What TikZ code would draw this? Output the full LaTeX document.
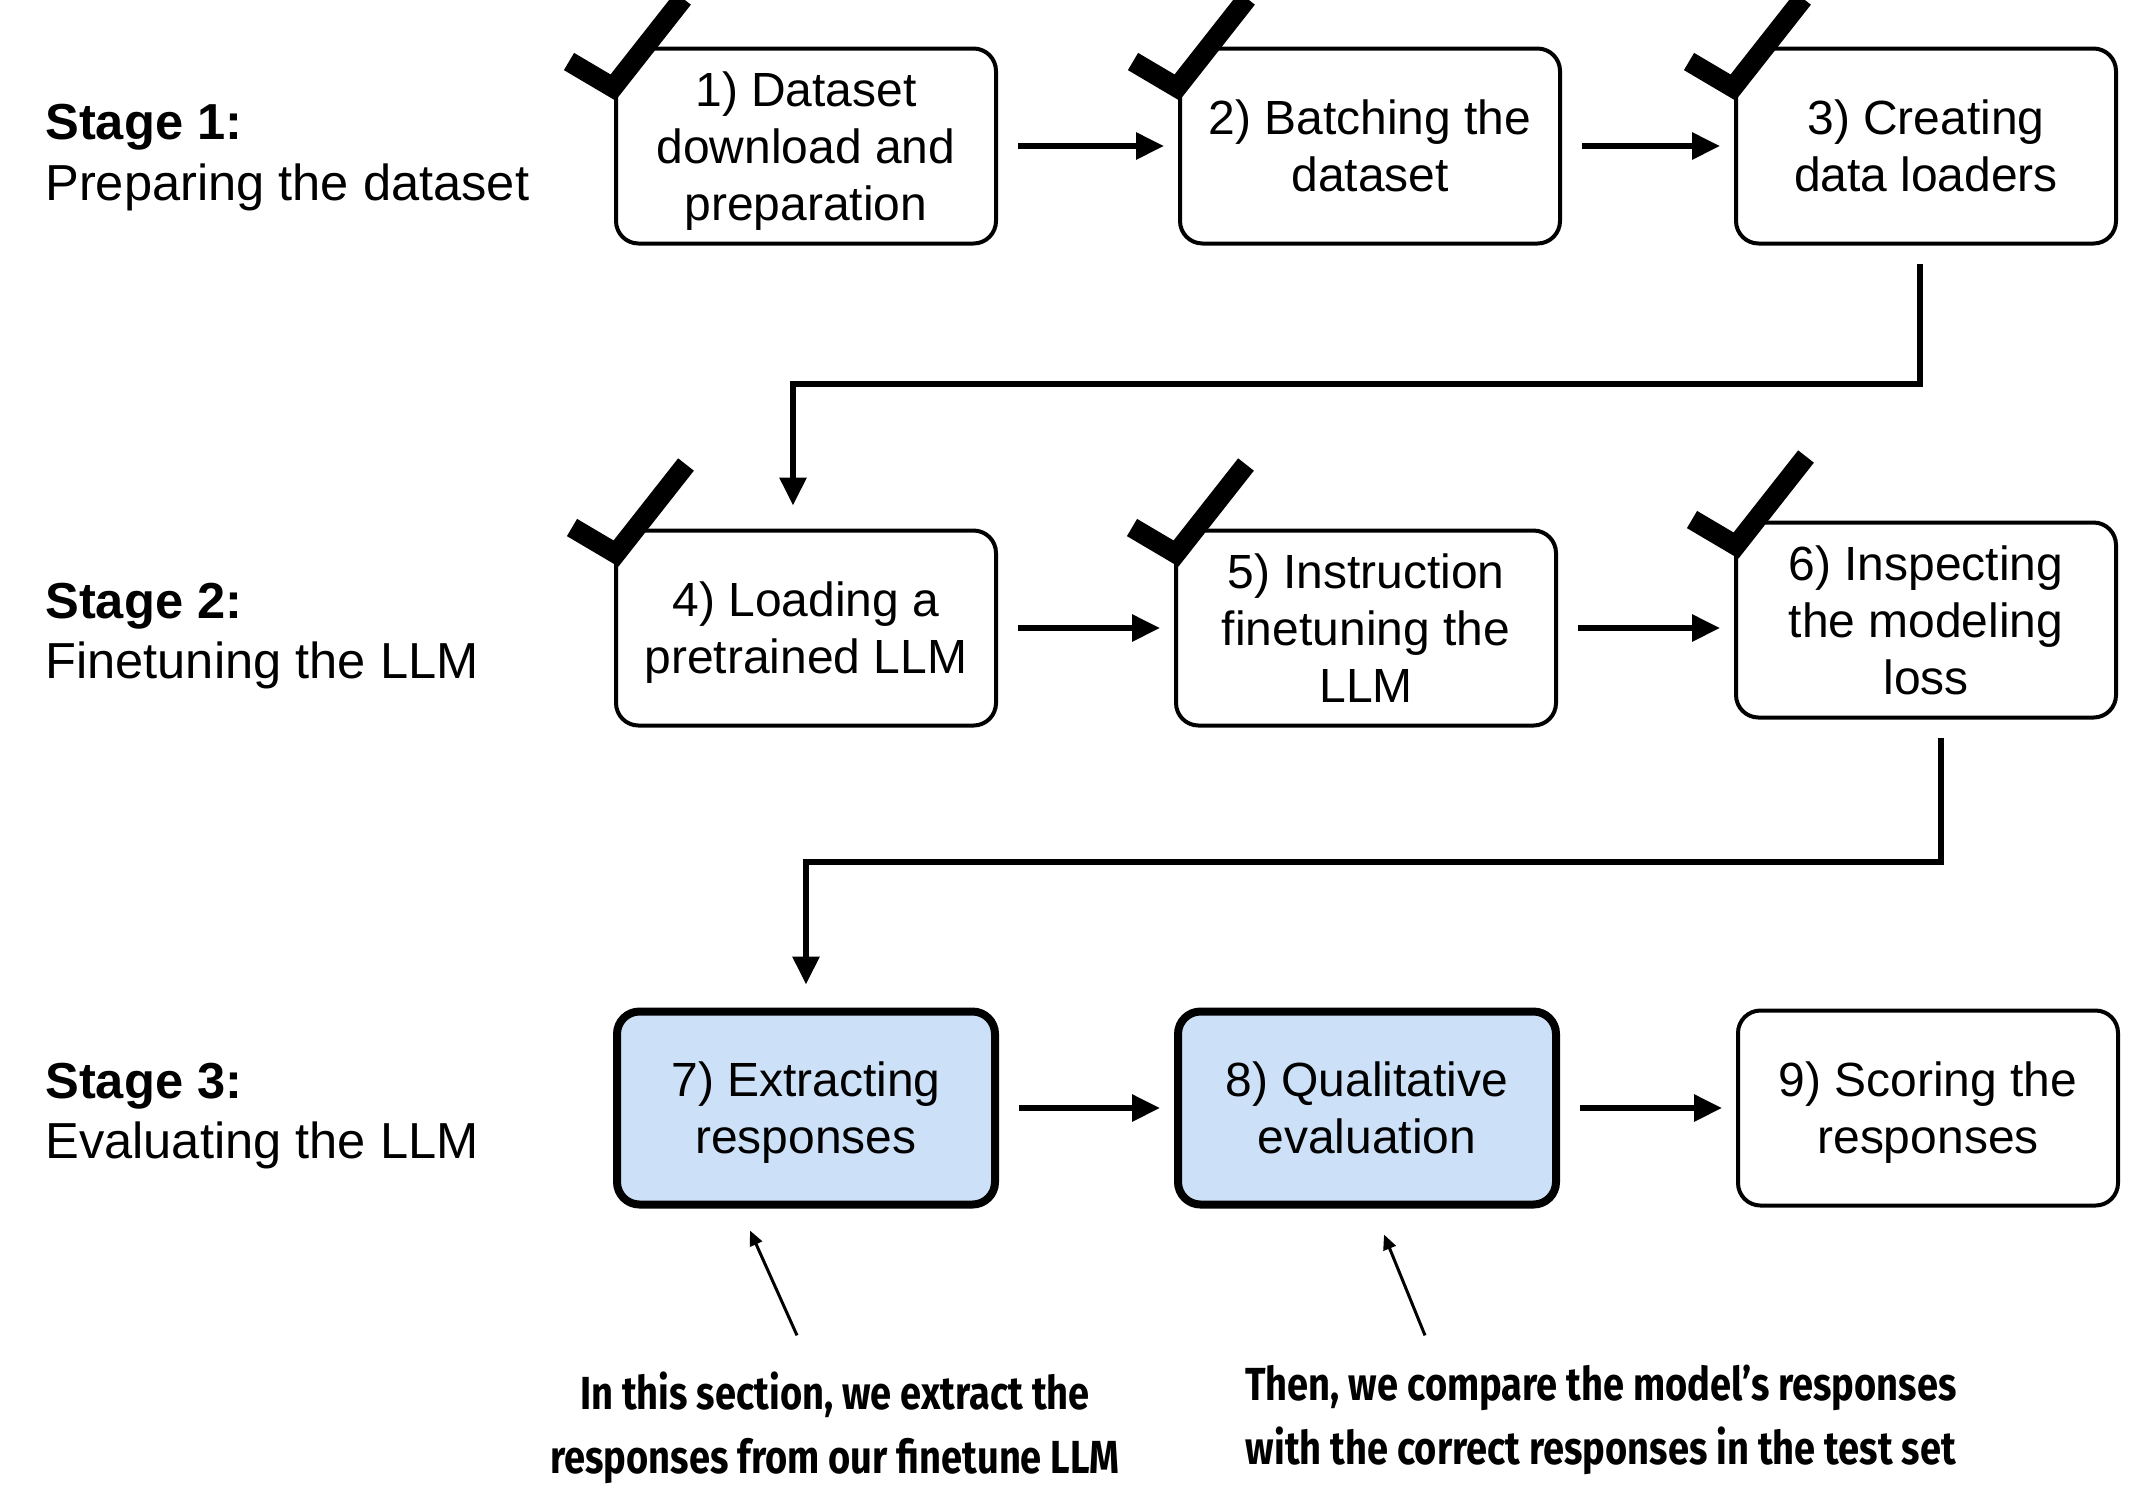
\documentclass[tikz,border=0pt]{standalone}
\usepackage{fontspec}
\setmainfont{Liberation Sans}
\newfontfamily\notefont[FakeStretch=0.82]{Fira Sans}
\usetikzlibrary{positioning,arrows.meta}
\definecolor{evalblue}{RGB}{204,225,247}

\begin{document}
\begin{tikzpicture}[
    block/.style={rectangle, draw, rounded corners=0.45cm, line width=0.08cm, minimum width=7.6cm, minimum height=3.9cm, align=center, text depth=-0.06cm, font=\fontsize{27.3pt}{32.4pt}\selectfont},
    evalblock/.style={block, fill=evalblue, line width=0.16cm, minimum width=7.56cm, minimum height=3.86cm},
    stage/.style={anchor=west, align=left, inner sep=0pt, font=\fontsize{28.8pt}{34.4pt}\selectfont},
    note/.style={align=center, font=\notefont\bfseries\fontsize{26.4pt}{36.4pt}\selectfont},
    arrow/.style={-{Triangle[length=0.56cm,width=0.52cm]}, line width=0.12cm, shorten <=0.4cm, shorten >=0.28cm},
    elbow/.style={arrow, shorten <=0.36cm, shorten >=0.46cm},
    pointer/.style={-{Triangle[length=0.3cm,width=0.26cm]}, line width=0.06cm},
    donecheck/.style={line width=0.4cm, line join=miter}
]
    \useasboundingbox (0,0) rectangle (42.76,-30.18);

    % Stage 1
    \node [block] (b1) at (16.12,-2.92) {1) Dataset\\download and\\preparation};
    \node [block, right=3.6cm of b1] (b2) {2) Batching the\\dataset};
    \node [block, right=3.44cm of b2] (b3) {3) Creating\\data loaders};
    % Stage 2
    \node [block, below=5.66cm of b1] (b4) {4) Loading a\\pretrained LLM};
    \node [block, right=3.52cm of b4] (b5) {5) Instruction\\finetuning the\\LLM};
    \node [block, right=3.52cm of b5, yshift=0.16cm] (b6) {6) Inspecting\\the modeling\\loss};
    % Stage 3
    \node [evalblock, below=5.6cm of b4] (b7) {7) Extracting\\responses};
    \node [evalblock, right=3.5cm of b7] (b8) {8) Qualitative\\evaluation};
    \node [block, right=3.52cm of b8] (b9) {9) Scoring the\\responses};

    % Stage labels
    \node [stage, yshift=-0.23cm] (s1) at (0.9,0 |- b1) {\textbf{Stage 1:}\\Preparing the dataset};
    \node [stage, yshift=-0.16cm] (s2) at (0.9,0 |- b4) {\textbf{Stage 2:}\\Finetuning the LLM};
    \node [stage, yshift=-0.16cm] (s3) at (0.9,0 |- b7) {\textbf{Stage 3:}\\Evaluating the LLM};

    % Check marks for finished steps
    \foreach \b/\dx/\dy in {b1/-0.06/-0.32, b2/-0.06/-0.32, b3/-0.06/-0.32, b4/0/0, b5/0/0, b6/0/0} {
        \begin{scope}[shift={(\b.north west)}, xshift=\dx cm, yshift=\dy cm]
            \fill [white] (0.04,-0.5) -- (1.44,1.28) -- (-0.84,1.28) -- (-0.84,0.02) -- cycle;
            \draw [donecheck] (-0.84,0.02) -- (0.04,-0.5) -- (1.44,1.28);
        \end{scope}
    }

    % Connectors
    \draw [arrow] (b1.east) -- (b1.east -| b2.west);
    \draw [arrow] (b2.east) -- (b2.east -| b3.west);
    \draw [elbow] ([xshift=-0.12cm]b3.south) -- ++(0,-2.76) -| ([xshift=-0.26cm]b4.north);
    \draw [arrow] (b4.east) -- (b4.east -| b5.west);
    \draw [arrow] (b5.east) -- (b5.east -| b6.west);
    \draw [elbow] ([xshift=0.3cm]b6.south) -- ++(0,-2.84) -| (b7.north);
    \draw [arrow] (b7.east) -- (b7.east -| b8.west);
    \draw [arrow] (b8.east) -- (b8.east -| b9.west);

    % Notes
    \node [note] (n1) at (16.7,-28.56) {In this section, we extract the\\responses from our finetune LLM};
    \node [note] (n2) at (32.02,-28.4) {Then, we compare the model’s responses\\with the correct responses in the test set};
    \draw [pointer] ([xshift=-0.76cm,yshift=0.61cm]n1.north) -- ([xshift=-1.12cm,yshift=-0.44cm]b7.south);
    \draw [pointer] ([xshift=-3.52cm,yshift=0.47cm]n2.north) -- ([xshift=0.34cm,yshift=-0.52cm]b8.south);
\end{tikzpicture}
\end{document}
